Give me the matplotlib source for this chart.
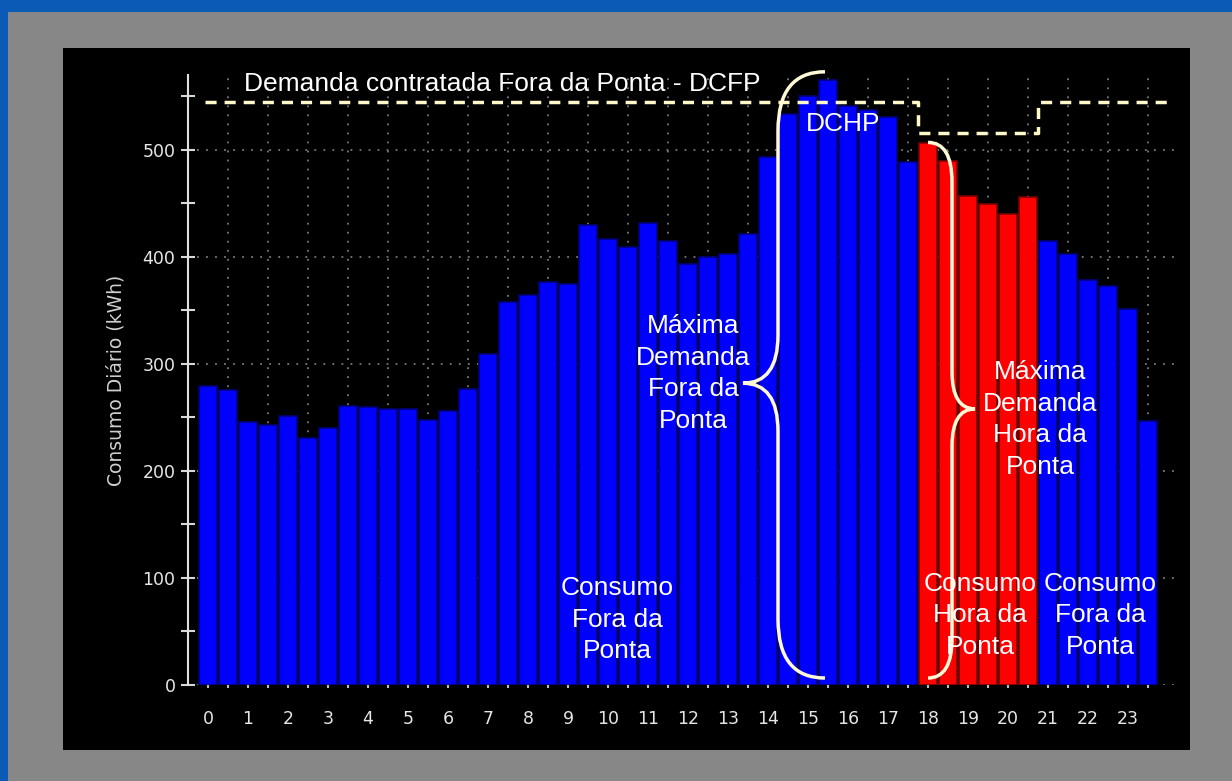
import numpy as np
import matplotlib
matplotlib.use("Agg")
import matplotlib.pyplot as plt
from matplotlib.path import Path
from matplotlib.patches import PathPatch, Rectangle

# ============================== Data ============================== #

# consumption per half hour (48 bars, 0:00 .. 23:30)
consumo = [279, 276, 246, 243, 251, 231, 240, 261, 260, 258, 258, 248,
           256, 277, 309, 358, 364, 377, 375, 430, 417, 409, 432, 415,
           393, 400, 403, 421, 493, 534, 550, 565, 541, 537, 531, 489,
           506, 490, 457, 449, 440, 456, 415, 403, 378, 373, 351, 247]
hour_labels = [str(h) for h in range(24)]
ponta_inicio = 36   # 18:00
ponta_fim = 42      # 21:00
dcfp = 545          # demanda contratada fora da ponta
dchp = 516          # demanda contratada hora da ponta

# ============================== Style ============================== #

BLUE_BG = "#0a5ab6"
GREY = "#878787"
TXT = "#e6e6e6"
CREAM = "#fff8c8"
plt.rcParams["font.family"] = ["Liberation Sans", "DejaVu Sans"]

def brace(ax, x_end, x_spine, x_tip, y_top, y_bot, y_tip, r1, r2):
	verts = [(x_end, y_top), (x_spine, y_top), (x_spine, y_top - r1),
	         (x_spine, y_tip + r2),
	         (x_spine, y_tip), (x_tip, y_tip),
	         (x_spine, y_tip), (x_spine, y_tip - r2),
	         (x_spine, y_bot + r1),
	         (x_spine, y_bot), (x_end, y_bot)]
	codes = [Path.MOVETO, Path.CURVE3, Path.CURVE3,
	         Path.LINETO,
	         Path.CURVE3, Path.CURVE3,
	         Path.CURVE3, Path.CURVE3,
	         Path.LINETO,
	         Path.CURVE3, Path.CURVE3]
	p = PathPatch(Path(verts, codes), fill=False, edgecolor="#fff9d6",
	              lw=2.5, clip_on=False, zorder=6)
	ax.add_patch(p)

# ============================== Figure ============================== #

W, H = 1232, 781
fig = plt.figure(figsize=(W / 100, H / 100), dpi=100)
fig.patch.set_facecolor(BLUE_BG)
fig.patches.append(Rectangle((8 / W, 0), 1 - 8 / W, 1 - 12 / H, transform=fig.transFigure,
                             facecolor=GREY, edgecolor="none", zorder=-2))
fig.patches.append(Rectangle((63 / W, 1 - 750 / H), (1190 - 63) / W, (750 - 48) / H,
                             transform=fig.transFigure, facecolor="black",
                             edgecolor="none", zorder=-1))

ax = fig.add_axes([188 / W, 1 - 685 / H, (1178 - 188) / W, (685 - 75) / H])
ax.set_facecolor("black")
ax.patch.set_alpha(0)

x = np.arange(len(consumo))
colors = ["#ff0000" if ponta_inicio <= i < ponta_fim else "#0000ff" for i in x]
edges = ["#7a0000" if ponta_inicio <= i < ponta_fim else "#00007a" for i in x]
ax.bar(x, consumo, width=0.92, color=colors, edgecolor=edges, linewidth=1.2, zorder=3)

# contracted demand (dashed step line)
step_x = [-0.15, ponta_inicio - 0.5, ponta_inicio - 0.5, ponta_fim - 0.5, ponta_fim - 0.5, 48.2]
step_y = [dcfp, dcfp, dchp, dchp, dcfp, dcfp]
ax.plot(step_x, step_y, color=CREAM, lw=2.5, dashes=(3.2, 2.3), zorder=5, clip_on=False)

ax.set_xlim(-1, 48.5)
ax.set_ylim(0, 570)

ax.set_xticks(x[::2])
ax.set_xticklabels(hour_labels)
ax.set_xticks(x[1::2], minor=True)
ax.set_yticks(range(0, 600, 100))
ax.set_yticks(range(50, 600, 100), minor=True)

ax.tick_params(axis="x", which="both", length=2, width=1.5, color="#bbbbbb",
               labelcolor=TXT, labelsize=12.5, pad=16)
ax.tick_params(axis="y", which="both", direction="inout", length=10, width=1.5,
               color="#d8d8d8", labelcolor=TXT, labelsize=12.5, pad=4)
for lab in ax.get_xticklabels() + ax.get_yticklabels():
	lab.set_family("DejaVu Sans")

ax.grid(which="minor", axis="x", color="#7a7a7a", linestyle=(0, (1, 4)), lw=1.3)
ax.grid(which="major", axis="y", color="#7a7a7a", linestyle=(0, (1, 4)), lw=1.3)
ax.set_axisbelow(True)

for s in ["top", "right", "bottom"]:
	ax.spines[s].set_visible(False)
ax.spines["left"].set_color("#e0e0e0")
ax.spines["left"].set_linewidth(1.5)

ax.set_ylabel("Consumo Diário (kWh)", color="#d0d0d0", fontsize=13.5,
              family="DejaVu Sans", labelpad=12)

# ============================== Annotations ============================== #

fs = 19
ls = 1.4
ax.text(14.7, 562, "Demanda contratada Fora da Ponta - DCFP", color="white",
        fontsize=fs, ha="center", va="center", zorder=7, clip_on=False)
ax.text(31.75, 524, "DCHP", color="white", fontsize=fs, ha="center", va="center", zorder=7)
ax.text(24.25, 291, "Máxima\nDemanda\nFora da\nPonta", color="white", fontsize=fs,
        ha="center", va="center", linespacing=ls, zorder=7)
ax.text(41.6, 248, "Máxima\nDemanda\nHora da\nPonta", color="white", fontsize=fs,
        ha="center", va="center", linespacing=ls, zorder=7)
ax.text(20.45, 61, "Consumo\nFora da\nPonta", color="white", fontsize=fs,
        ha="center", va="center", linespacing=ls, zorder=7)
ax.text(38.6, 65, "Consumo\nHora da\nPonta", color="white", fontsize=fs,
        ha="center", va="center", linespacing=ls, zorder=7)
ax.text(44.6, 65, "Consumo\nFora da\nPonta", color="white", fontsize=fs,
        ha="center", va="center", linespacing=ls, zorder=7)

brace(ax, 30.85, 28.5, 26.75, 573, 6.5, 282, 55, 45)
brace(ax, 36.0, 37.2, 38.35, 507, 6.5, 258, 37, 35)

fig.savefig("out.png", dpi=100, facecolor=fig.get_facecolor())
